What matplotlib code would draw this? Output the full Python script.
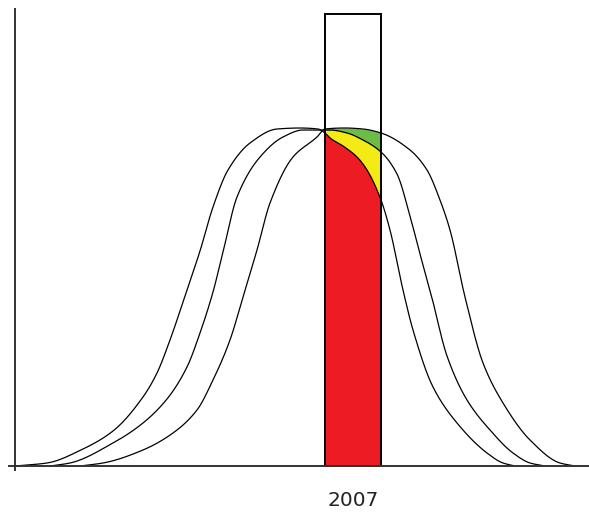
import numpy as np
import matplotlib
matplotlib.use("Agg")
import matplotlib.pyplot as plt

# ---- data ----
year_label = "2007"
bar_center = 353
bar_width = 56
bar_height = 452

# curve A (earliest)
a_x = [15, 47, 83, 113, 143, 157, 170, 187, 200, 213, 228, 250, 277, 300, 318, 325, 330, 343, 357, 367, 381, 390, 403, 413, 433, 457, 487, 503, 515]
a_y = [0, 3, 17, 35, 69, 93, 126, 176, 215, 259, 296, 323, 337, 338, 337, 333, 328, 320, 309, 296, 266, 236, 176, 136, 79, 43, 13, 3, 0]
# curve B (middle)
b_x = [50, 70, 113, 143, 167, 187, 200, 213, 223, 237, 260, 283, 303, 330, 347, 363, 381, 397, 410, 420, 431, 447, 467, 490, 513, 530, 545]
b_y = [0, 3, 23, 43, 67, 99, 133, 174, 214, 269, 309, 329, 336, 336, 333, 326, 314, 292, 250, 212, 172, 110, 66, 36, 13, 3, 0]
# curve C (latest)
c_x = [80, 103, 143, 173, 197, 213, 230, 243, 257, 270, 293, 317, 325, 345, 363, 381, 410, 427, 440, 450, 465, 483, 503, 530, 560, 575]
c_y = [0, 3, 16, 33, 56, 86, 126, 169, 216, 263, 309, 329, 337, 338, 337, 333, 316, 296, 266, 236, 169, 103, 63, 26, 3, 0]

fill_colors = ["#ED1C24", "#F4EA16", "#6CBD45"]


def pchip(x, y, xq):
    """Monotone cubic Hermite curve through the points (for smooth drawing)."""
    x = np.asarray(x, float)
    y = np.asarray(y, float)
    h = np.diff(x)
    d = np.diff(y) / h
    n = len(x)
    m = np.zeros(n)
    for k in range(1, n - 1):
        if d[k - 1] * d[k] > 0:
            w1 = 2 * h[k] + h[k - 1]
            w2 = h[k] + 2 * h[k - 1]
            m[k] = (w1 + w2) / (w1 / d[k - 1] + w2 / d[k])
    m[0] = d[0]
    m[-1] = d[-1]
    xq = np.asarray(xq, float)
    i = np.clip(np.searchsorted(x, xq) - 1, 0, n - 2)
    t = (xq - x[i]) / h[i]
    h00 = 2 * t**3 - 3 * t**2 + 1
    h10 = t**3 - 2 * t**2 + t
    h01 = -2 * t**3 + 3 * t**2
    h11 = t**3 - t**2
    return h00 * y[i] + h10 * h[i] * m[i] + h01 * y[i + 1] + h11 * h[i] * m[i + 1]


# ---- figure ----
fig = plt.figure(figsize=(5.89, 5.16), dpi=100)
ax = fig.add_axes([0, 0, 1, 1])
ax.set_xlim(0, 589)
ax.set_ylim(-50, 466)
ax.axis("off")

x0 = bar_center - bar_width / 2
x1 = bar_center + bar_width / 2
xs = np.linspace(x0, x1, 300)
ya = pchip(a_x, a_y, xs)
yb = pchip(b_x, b_y, xs)
yc = pchip(c_x, c_y, xs)
ax.fill_between(xs, 0, ya, color=fill_colors[0], lw=0, zorder=2)
ax.fill_between(xs, ya, yb, color=fill_colors[1], lw=0, zorder=2)
ax.fill_between(xs, yb, yc, color=fill_colors[2], lw=0, zorder=2)

for cx, cy in [(a_x, a_y), (b_x, b_y), (c_x, c_y)]:
    xx = np.linspace(cx[0], cx[-1], 800)
    ax.plot(xx, pchip(cx, cy, xx), color="black", lw=0.9, zorder=4)

ax.bar([bar_center], [bar_height], width=bar_width, bottom=0,
       facecolor="none", edgecolor="black", lw=1.4, zorder=5)

# axis lines
ax.plot([9, 589], [0, 0], color="#333333", lw=1.4, zorder=6, clip_on=False)
ax.plot([15, 15], [-4, 457], color="#333333", lw=1.4, zorder=6, clip_on=False)

ax.text(bar_center, -35, year_label, ha="center", va="center",
        fontsize=14.5, color="#222222", family="DejaVu Sans")

fig.savefig("out.png", dpi=100)
